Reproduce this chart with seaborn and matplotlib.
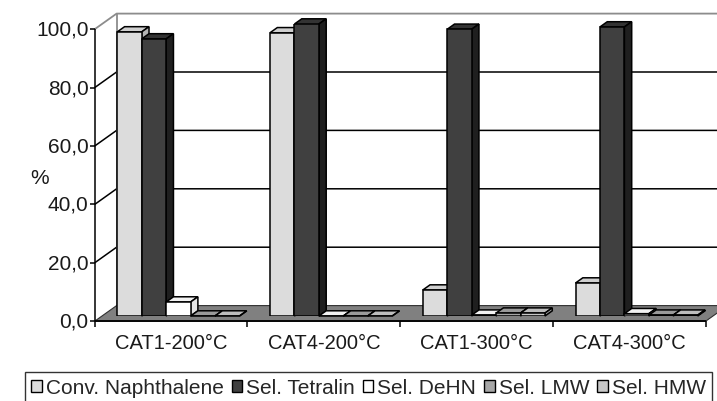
import numpy as np
import pandas as pd
import matplotlib
matplotlib.use("Agg")
import matplotlib.pyplot as plt
import seaborn as sns
from matplotlib.patches import Polygon, Patch

# ---- data -------------------------------------------------------------
categories = ["CAT1-200°C", "CAT4-200°C", "CAT1-300°C", "CAT4-300°C"]
series = ["Conv. Naphthalene", "Sel. Tetralin", "Sel. DeHN", "Sel. LMW", "Sel. HMW"]

conv_naphthalene = [97.3, 97.0, 8.9, 11.3]
sel_tetralin = [94.9, 100.0, 98.2, 99.0]
sel_dehn = [4.8, 0.0, 0.3, 0.8]
sel_lmw = [0.0, 0.0, 1.0, 0.3]
sel_hmw = [0.0, 0.0, 1.0, 0.3]

y_ticks = [0, 20, 40, 60, 80, 100]
y_tick_labels = ["0,0", "20,0", "40,0", "60,0", "80,0", "100,0"]

# ---- styling ------------------------------------------------------------
front_colors = ["#dcdcdc", "#404040", "#ffffff", "#a6a6a6", "#c8c8c8"]
top_colors = ["#cfcfcf", "#333333", "#f2f2f2", "#9a9a9a", "#bdbdbd"]
side_colors = ["#b4b4b4", "#1f1f1f", "#e4e4e4", "#8a8a8a", "#aaaaaa"]

sns.set_theme(style="white")
plt.rcParams["font.family"] = ["Liberation Sans", "DejaVu Sans"]
FS = 15
FS_CAT = 14.5

values = [conv_naphthalene, sel_tetralin, sel_dehn, sel_lmw, sel_hmw]
df = pd.DataFrame({
    "category": [c for _ in series for c in categories],
    "series": [s for s in series for _ in categories],
    "value": [v for vals in values for v in vals],
})

W, H = 717, 402
fig = plt.figure(figsize=(W / 100, H / 100), dpi=100)
ax = fig.add_axes([102 / W, 85 / H, 611 / W, 292 / H])

sns.barplot(data=df, x="category", y="value", hue="series",
            order=categories, hue_order=series, palette=front_colors,
            saturation=1, width=0.8, edgecolor="black", linewidth=1.1,
            legend=False, ax=ax, zorder=3)
ax.set_xlim(-0.5, 3.5)
ax.set_ylim(0, 100)
ax.set_axis_off()

# depth of one third of the box, expressed in data units
px_x = ax.bbox.width / 4.0
px_y = ax.bbox.height / 100.0
dX = 7.3 / px_x
dY = 5.2 / px_y

x_left, x_right = -0.5, 3.5

def poly(pts, **kw):
    kw.setdefault("clip_on", False)
    ax.add_patch(Polygon(pts, closed=True, **kw))

def line(xs, ys, **kw):
    kw.setdefault("clip_on", False)
    ax.plot(xs, ys, solid_capstyle="butt", **kw)

# back wall and left wall
poly([(x_left + 2 * dX, 2 * dY), (x_right + 4 * dX, 2 * dY),
      (x_right + 4 * dX, 100 + 2 * dY), (x_left + 2 * dX, 100 + 2 * dY)],
     facecolor="white", edgecolor="none", zorder=0.2)
poly([(x_left - dX, -dY), (x_left + 2 * dX, 2 * dY),
      (x_left + 2 * dX, 100 + 2 * dY), (x_left - dX, 100 - dY)],
     facecolor="white", edgecolor="none", zorder=0.2)

# gridlines on the walls
for yv in y_ticks[1:-1]:
    line([x_left - dX, x_left + 2 * dX, x_right + 4 * dX],
         [yv - dY, yv + 2 * dY, yv + 2 * dY], color="black", lw=1.1, zorder=0.5)
line([x_left - dX, x_left + 2 * dX, x_right + 4 * dX],
     [100 - dY, 100 + 2 * dY, 100 + 2 * dY], color="#8c8c8c", lw=1.3, zorder=0.5)
line([x_left + 2 * dX, x_left + 2 * dX], [2 * dY, 100 + 2 * dY],
     color="#8c8c8c", lw=1.3, zorder=0.5)

# floor
poly([(x_left - dX, -dY), (x_right - dX, -dY),
      (x_right + 2 * dX, 2 * dY), (x_left + 2 * dX, 2 * dY)],
     facecolor="#808080", edgecolor="#303030", lw=0.8, zorder=1)
line([x_left - dX, x_right - dX], [-dY, -dY], color="black", lw=1.3, zorder=4)

# front value axis with ticks and labels
line([x_left - dX, x_left - dX], [-dY, 100 - dY], color="black", lw=1.1, zorder=4)
tick_len = 5 / px_x
for yv, lab in zip(y_ticks, y_tick_labels):
    line([x_left - dX - tick_len, x_left - dX], [yv - dY, yv - dY],
         color="black", lw=1.1, zorder=4)
    ax.text(x_left - dX - tick_len - 1.0 / px_x, yv - dY, lab,
            ha="right", va="center", fontsize=FS, color="#1a1a1a")
ax.text(-0.5 - 62 / px_x, 50 - dY - 2 / px_y, "%", ha="center", va="center",
        fontsize=FS, color="#1a1a1a")

# category ticks and labels on the front edge of the floor
for i in range(len(categories) + 1):
    xb = i - 0.5 - dX
    line([xb, xb], [-dY, -dY - 6 / px_y], color="black", lw=1.1, zorder=4)
for i, cat in enumerate(categories):
    ax.text(i - dX, -dY - 12 / px_y, cat, ha="center", va="top",
            fontsize=FS_CAT, color="#1a1a1a")

# top and side faces of each bar
for s_idx, container in enumerate(ax.containers):
    for bar in container:
        x0, w, h = bar.get_x(), bar.get_width(), bar.get_height()
        poly([(x0, h), (x0 + w, h), (x0 + w + dX, h + dY), (x0 + dX, h + dY)],
             facecolor=top_colors[s_idx], edgecolor="black", lw=1.1, zorder=2)
        poly([(x0 + w, 0), (x0 + w + dX, dY), (x0 + w + dX, h + dY), (x0 + w, h)],
             facecolor=side_colors[s_idx], edgecolor="black", lw=1.1, zorder=2)

# legend
handles = [Patch(facecolor=c, edgecolor="black", lw=1.0) for c in front_colors]
leg = fig.legend(handles, series, loc="upper left",
                 bbox_to_anchor=(25 / W, 1 - 373 / H), ncol=5, fontsize=FS,
                 frameon=True, fancybox=False, handlelength=0.5,
                 handleheight=0.5, handletextpad=0.2, columnspacing=0.38,
                 borderpad=0.3, borderaxespad=0)
leg.get_frame().set_edgecolor("#333333")
leg.get_frame().set_linewidth(1.0)
leg.get_frame().set_alpha(1)

fig.savefig("out.png", dpi=100)
